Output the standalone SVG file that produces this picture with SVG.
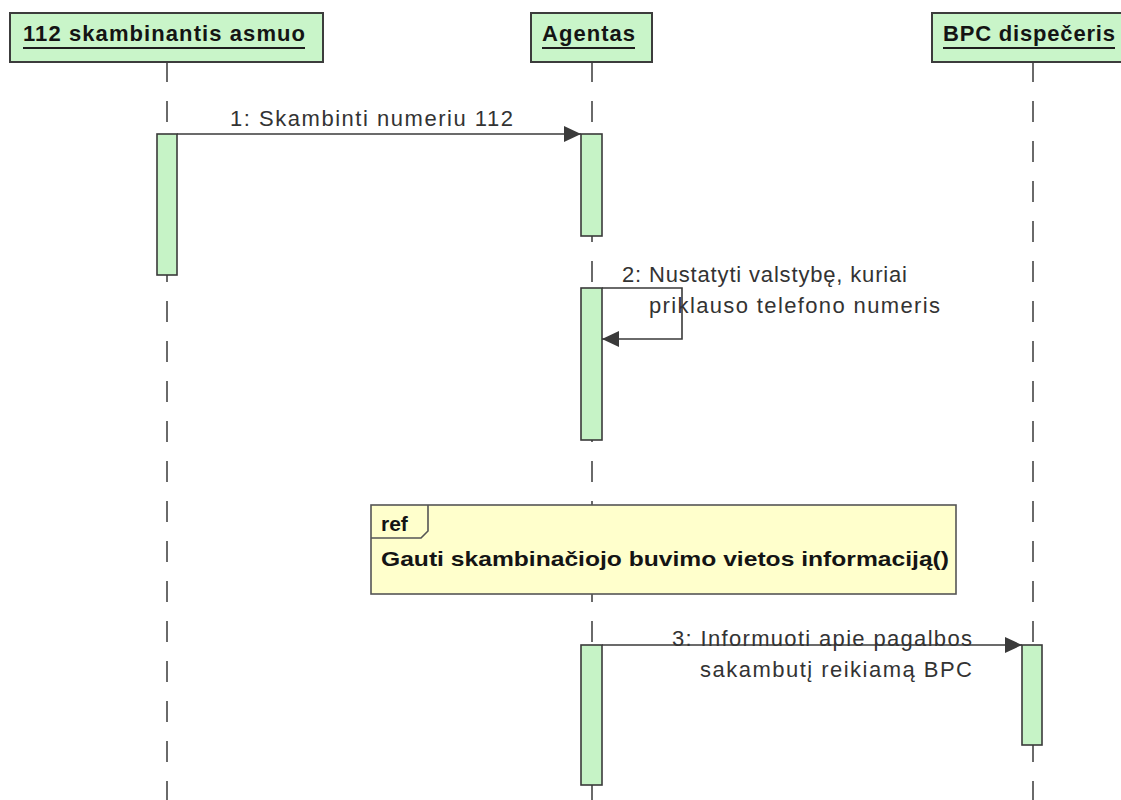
<svg xmlns="http://www.w3.org/2000/svg" width="1121" height="800" viewBox="0 0 1121 800">
  <style>
    .head { fill: #c9f5c9; stroke: #3c3c3c; stroke-width: 2; }
    .head-label { font-family: "Liberation Sans", Arial, sans-serif; font-weight: bold; font-size: 22px; fill: #141414; }
    .underline { stroke: #1e1e1e; stroke-width: 2; }
    .lifeline { stroke: #3a3a3a; stroke-width: 1.5; stroke-dasharray: 21 19; fill: none; }
    .act { fill: #c6f3c6; stroke: #3a3a3a; stroke-width: 1.6; }
    .msg { stroke: #3a3a3a; stroke-width: 1.6; fill: none; }
    .msg-label { font-family: "Liberation Sans", Arial, sans-serif; font-size: 22px; fill: #333333; }
    .frame { fill: #ffffcc; stroke: #555555; stroke-width: 1.6; }
    .frame-label { font-family: "Liberation Sans", Arial, sans-serif; font-weight: bold; font-size: 21px; fill: #141414; }
  </style>
  <defs>
    <marker id="arrow" viewBox="0 0 17 16" refX="17" refY="8" markerWidth="17" markerHeight="16" markerUnits="userSpaceOnUse" orient="auto">
      <path d="M0,0 L17,8 L0,16 Z" fill="#3a3a3a"/>
    </marker>
  </defs>

  <rect width="1121" height="800" fill="#ffffff"/>

  <!-- lifelines -->
  <g id="lifelines">
    <line class="lifeline" x1="167" y1="61" x2="167" y2="800"/>
    <line class="lifeline" x1="592" y1="61" x2="592" y2="800"/>
    <line class="lifeline" x1="1033" y1="61" x2="1033" y2="800"/>
  </g>

  <!-- participant heads -->
  <g id="caller">
    <rect class="head" x="10" y="13" width="313" height="49"/>
    <text class="head-label" x="23" y="41" textLength="282" lengthAdjust="spacing">112 skambinantis asmuo</text>
    <line class="underline" x1="23" y1="48" x2="305" y2="48"/>
  </g>
  <g id="agent">
    <rect class="head" x="531" y="13" width="121" height="49"/>
    <text class="head-label" x="542" y="41" textLength="93" lengthAdjust="spacing">Agentas</text>
    <line class="underline" x1="542" y1="48" x2="635" y2="48"/>
  </g>
  <g id="dispatcher">
    <rect class="head" x="932" y="13" width="202" height="49"/>
    <text class="head-label" x="943" y="41" textLength="172" lengthAdjust="spacing">BPC dispečeris</text>
    <line class="underline" x1="943" y1="48" x2="1115" y2="48"/>
  </g>

  <!-- activation bars -->
  <g id="activations">
    <rect class="act" x="157" y="134" width="20" height="141"/>
    <rect class="act" x="581" y="134" width="21" height="102"/>
    <rect class="act" x="581" y="288" width="21" height="152"/>
    <rect class="act" x="581" y="645" width="21" height="140"/>
    <rect class="act" x="1022" y="645" width="20" height="100"/>
  </g>

  <!-- interaction use -->
  <g id="ref-frame">
    <rect class="frame" x="371" y="505" width="585" height="89"/>
    <path d="M371,538 L421,538 L428,531 L428,505" fill="none" stroke="#555555" stroke-width="1.6"/>
    <text class="frame-label" x="381" y="531">ref</text>
    <text class="frame-label" x="381" y="566" textLength="568" lengthAdjust="spacingAndGlyphs">Gauti skambinačiojo buvimo vietos informaciją()</text>
  </g>

  <!-- messages -->
  <g id="connectors">
    <line class="msg" x1="177" y1="134" x2="581" y2="134" marker-end="url(#arrow)"/>
    <text class="msg-label" x="230" y="126" textLength="283" lengthAdjust="spacing">1: Skambinti numeriu 112</text>

    <path class="msg" d="M602,288 L682,288 L682,339 L602,339" marker-end="url(#arrow)"/>
    <text class="msg-label" x="622" y="282" textLength="285" lengthAdjust="spacing">2: Nustatyti valstybę, kuriai</text>
    <text class="msg-label" x="649" y="313" textLength="291" lengthAdjust="spacing">priklauso telefono numeris</text>

    <line class="msg" x1="602" y1="645" x2="1022" y2="645" marker-end="url(#arrow)"/>
    <text class="msg-label" x="672" y="646" textLength="300" lengthAdjust="spacing">3: Informuoti apie pagalbos</text>
    <text class="msg-label" x="700" y="677" textLength="272" lengthAdjust="spacing">sakambutį reikiamą BPC</text>
  </g>
</svg>
